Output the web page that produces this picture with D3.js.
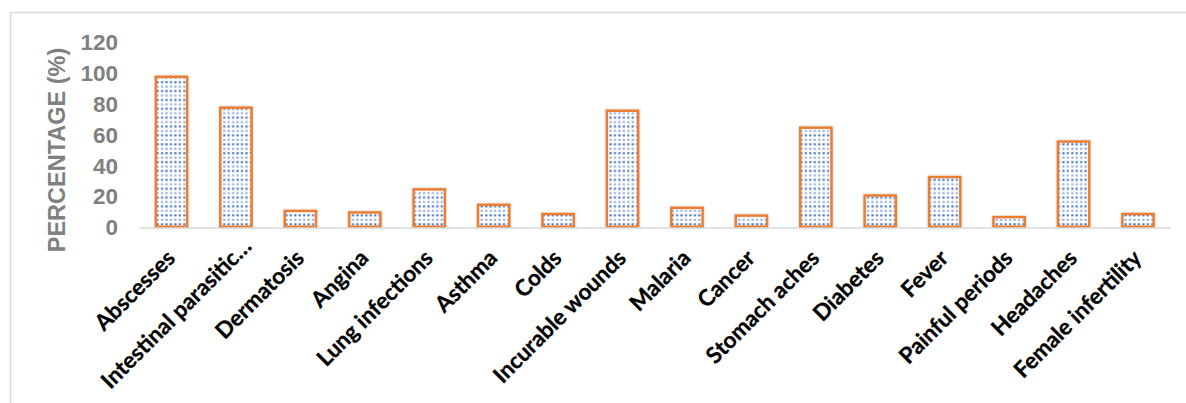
<!DOCTYPE html>
<html>
<head>
<meta charset="utf-8">
<script src="https://cdn.jsdelivr.net/npm/d3@7"></script>
<style>
  html, body { margin: 0; padding: 0; background: #ffffff; }
  svg { display: block; }
</style>
</head>
<body>
<svg id="chart" width="1186" height="403"></svg>
<script>
const categories = ["Abscesses", "Intestinal parasitic…", "Dermatosis", "Angina", "Lung infections",
  "Asthma", "Colds", "Incurable wounds", "Malaria", "Cancer", "Stomach aches", "Diabetes",
  "Fever", "Painful periods", "Headaches", "Female infertility"];
const values = [98, 78, 11, 10, 25, 15, 9, 76, 13, 8, 65, 21, 33, 7, 56, 9];
const yTicks = [0, 20, 40, 60, 80, 100, 120];
const yTitle = "PERCENTAGE (%)";

const svg = d3.select("#chart");

// chart frame
svg.append("path")
  .attr("d", "M10.5,1200 L10.5,12.5 L1300,12.5")
  .attr("fill", "none").attr("stroke", "#d9d9d9").attr("stroke-width", 1.5);

// pattern + shadow
const defs = svg.append("defs");
const pat = defs.append("pattern").attr("id", "dots")
  .attr("patternUnits", "userSpaceOnUse")
  .attr("width", 4.44).attr("height", 8.88);
pat.append("rect").attr("width", 4.44).attr("height", 8.88).attr("fill", "#ffffff");
pat.append("rect").attr("x", 1.2).attr("y", 1.2).attr("width", 2.1).attr("height", 2.1).attr("fill", "#3F6FC0");
pat.append("rect").attr("x", 1.2).attr("y", 5.64).attr("width", 2.1).attr("height", 2.1).attr("fill", "#4472C4").attr("opacity", 0.6);
const flt = defs.append("filter").attr("id", "shadow")
  .attr("x", "-20%").attr("y", "-20%").attr("width", "140%").attr("height", "140%");
flt.append("feDropShadow").attr("dx", 0).attr("dy", 0).attr("stdDeviation", 1.2)
  .attr("flood-color", "#000000").attr("flood-opacity", 0.25);

const x = d3.scaleBand().domain(categories).range([139.3, 1170.2]).paddingInner(0.515).paddingOuter(0.2575);
const y = d3.scaleLinear().domain([0, 120]).range([226.7, 41.7]);

// y axis labels
const yAxis = d3.axisLeft(y).tickValues(yTicks).tickSize(0).tickPadding(0);
const gy = svg.append("g").attr("transform", "translate(118,0)").call(yAxis);
gy.select(".domain").remove();
gy.selectAll("text")
  .attr("fill", "#808080")
  .style("font-family", "'Liberation Sans', Arial, sans-serif")
  .style("font-weight", "bold")
  .style("font-size", "22.5px")
  .attr("dy", "0.36em");

// y title
svg.append("text")
  .attr("transform", "translate(65,150) rotate(-90)")
  .attr("text-anchor", "middle")
  .attr("fill", "#808080")
  .style("font-family", "'Liberation Sans', Arial, sans-serif")
  .style("font-weight", "bold")
  .style("font-size", "23.5px")
  .text(yTitle);

// bars
svg.append("g").selectAll("rect")
  .data(values)
  .join("rect")
  .attr("x", (d, i) => x(categories[i]))
  .attr("y", d => y(d) + 1.2)
  .attr("width", x.bandwidth())
  .attr("height", d => y(0) - y(d) - 1.2)
  .attr("fill", "url(#dots)")
  .attr("stroke", "#ED7D31")
  .attr("stroke-width", 2.5)
  .attr("filter", "url(#shadow)");

// x axis
const xAxis = d3.axisBottom(x).tickSize(0).tickPadding(0);
const gx = svg.append("g").attr("transform", "translate(0,227.5)").call(xAxis);
gx.select(".domain").attr("stroke", "#d9d9d9").attr("stroke-width", 1.5);
gx.selectAll(".tick text")
  .attr("fill", "#000000")
  .attr("stroke", "#000000")
  .attr("stroke-width", 0.3)
  .attr("text-anchor", "end")
  .attr("y", 0)
  .attr("dy", 0)
  .attr("transform", "translate(5,32) rotate(-45)")
  .attr("dx", d => d.endsWith("…") ? 16.6 : 0)
  .style("font-family", "Lato, 'Open Sans', sans-serif")
  .style("font-weight", "bold")
  .style("font-size", "22.5px");
</script>
</body>
</html>
